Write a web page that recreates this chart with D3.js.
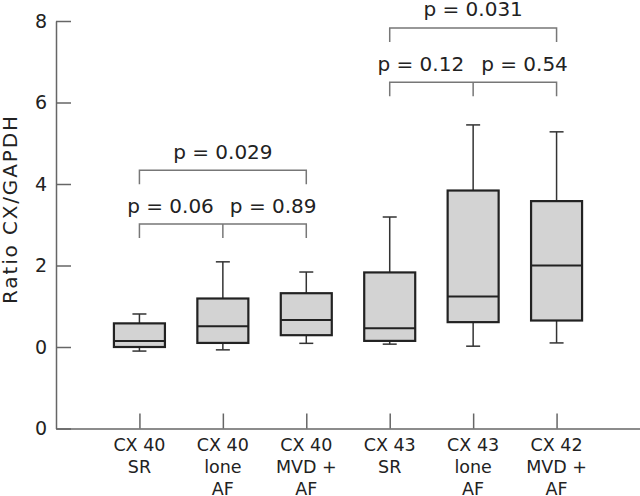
<!DOCTYPE html>
<html>
<head>
<meta charset="utf-8">
<script src="https://cdn.jsdelivr.net/npm/d3@7"></script>
<style>
  html, body { margin: 0; padding: 0; background: #fff; }
  svg { display: block; font-family: "DejaVu Sans", sans-serif; }
</style>
</head>
<body>
<svg id="chart" width="640" height="496"></svg>
<script>
// ---- data ----
const categories = ["CX 40 SR", "CX 40 lone AF", "CX 40 MVD + AF", "CX 43 SR", "CX 43 lone AF", "CX 42 MVD + AF"];
const categoryLines = [["CX 40", "SR"], ["CX 40", "lone", "AF"], ["CX 40", "MVD +", "AF"],
                       ["CX 43", "SR"], ["CX 43", "lone", "AF"], ["CX 42", "MVD +", "AF"]];
const whiskerLow  = [-0.10, -0.07, 0.09, 0.07, 0.02, 0.10];
const q1          = [0.00, 0.10, 0.29, 0.15, 0.61, 0.65];
const median      = [0.15, 0.51, 0.66, 0.46, 1.24, 2.00];
const q3          = [0.58, 1.19, 1.32, 1.83, 3.84, 3.58];
const whiskerHigh = [0.81, 2.09, 1.84, 3.19, 5.45, 5.28];
const yTickValues = [-2, 0, 2, 4, 6, 8];
const yTickLabels = ["0", "0", "2", "4", "6", "8"];
// p-value labels
const compLabels = ["p = 0.06", "p = 0.029", "p = 0.12", "p = 0.031"];
const lowerPair2 = ["p = 0.89", "p = 0.54"];

// ---- layout ----
const svg = d3.select("#chart");
const y = d3.scaleLinear().domain([-2, 8]).range([428.5, 21]);
const x = d3.scalePoint().domain(categories).range([56, 640]).padding(1);
const boxW = 51, capW = 14;

// y axis
const yAxis = svg.append("g").attr("transform", "translate(56,0)")
  .call(d3.axisLeft(y).tickValues(yTickValues).tickFormat((d, i) => yTickLabels[i])
    .tickSizeInner(-15).tickSizeOuter(0).tickPadding(9));
yAxis.select(".domain").attr("stroke", "#666").attr("stroke-width", 1.5);
yAxis.selectAll(".tick line").attr("stroke", "#666").attr("stroke-width", 1.5);
yAxis.selectAll(".tick text").attr("font-size", 19).attr("fill", "#222")
  .attr("font-family", "DejaVu Sans");

// x axis
const xAxis = svg.append("g").attr("transform", `translate(0,${y(-2)})`)
  .call(d3.axisBottom(x).tickSizeInner(-15).tickSizeOuter(0).tickFormat(""));
xAxis.select(".domain").attr("stroke", "#666").attr("stroke-width", 1.5);
xAxis.selectAll(".tick line").attr("stroke", "#666").attr("stroke-width", 1.5);
xAxis.selectAll(".tick text").remove();

// category labels
const catText = svg.append("g").selectAll("text").data(categories).join("text")
  .attr("x", d => x(d)).attr("y", 451).attr("text-anchor", "middle")
  .attr("font-size", 17.5).attr("fill", "#222");
catText.each(function(d, i) {
  d3.select(this).selectAll("tspan").data(categoryLines[i]).join("tspan")
    .attr("x", x(d)).attr("dy", (t, j) => j === 0 ? 0 : 22).text(t => t);
});

// y title
svg.append("text").attr("transform", "translate(17,210) rotate(-90)")
  .attr("text-anchor", "middle").attr("font-size", 20).attr("fill", "#222")
  .attr("textLength", 188).attr("lengthAdjust", "spacing")
  .text("Ratio CX/GAPDH");

// boxes
const g = svg.append("g");
categories.forEach((c, i) => {
  const cx = x(c);
  g.append("line").attr("x1", cx).attr("x2", cx).attr("y1", y(whiskerHigh[i])).attr("y2", y(q3[i]))
    .attr("stroke", "#333").attr("stroke-width", 1.5);
  g.append("line").attr("x1", cx).attr("x2", cx).attr("y1", y(q1[i])).attr("y2", y(whiskerLow[i]))
    .attr("stroke", "#333").attr("stroke-width", 1.5);
  g.append("line").attr("x1", cx - capW / 2).attr("x2", cx + capW / 2)
    .attr("y1", y(whiskerHigh[i])).attr("y2", y(whiskerHigh[i])).attr("stroke", "#333").attr("stroke-width", 1.5);
  g.append("line").attr("x1", cx - capW / 2).attr("x2", cx + capW / 2)
    .attr("y1", y(whiskerLow[i])).attr("y2", y(whiskerLow[i])).attr("stroke", "#333").attr("stroke-width", 1.5);
  g.append("rect").attr("x", cx - boxW / 2).attr("width", boxW)
    .attr("y", y(q3[i])).attr("height", y(q1[i]) - y(q3[i]))
    .attr("fill", "#d3d3d3").attr("stroke", "#222").attr("stroke-width", 2.2);
  g.append("line").attr("x1", cx - boxW / 2).attr("x2", cx + boxW / 2)
    .attr("y1", y(median[i])).attr("y2", y(median[i])).attr("stroke", "#222").attr("stroke-width", 2);
});

// significance brackets
const bg = svg.append("g").attr("stroke", "#777").attr("stroke-width", 1.5).attr("fill", "none");
const tg = svg.append("g").attr("font-size", 20).attr("fill", "#222");
const legH = 14;
function bracket(i0, i1, level, iMid) {
  const x0 = x(categories[i0]), x1 = x(categories[i1]), yy = y(level);
  bg.append("path").attr("d", `M${x0},${yy + legH}V${yy}H${x1}V${yy + legH}`);
  if (iMid != null) {
    const xm = x(categories[iMid]);
    bg.append("path").attr("d", `M${xm},${yy}V${yy + legH}`);
  }
  return { x0, x1, yy };
}
// left group
let b = bracket(0, 2, 3.02, 1);
tg.append("text").attr("x", x(categories[1]) - 9).attr("y", b.yy - 11).attr("text-anchor", "end").text(compLabels[0]);
tg.append("text").attr("x", x(categories[1]) + 7).attr("y", b.yy - 11).attr("text-anchor", "start").text(lowerPair2[0]);
b = bracket(0, 2, 4.34);
tg.append("text").attr("x", (b.x0 + b.x1) / 2).attr("y", b.yy - 11).attr("text-anchor", "middle").text(compLabels[1]);
// right group
b = bracket(3, 5, 6.5, 4);
tg.append("text").attr("x", x(categories[4]) - 9).attr("y", b.yy - 11).attr("text-anchor", "end").text(compLabels[2]);
tg.append("text").attr("x", x(categories[4]) + 8).attr("y", b.yy - 11).attr("text-anchor", "start").text(lowerPair2[1]);
b = bracket(3, 5, 7.83);
tg.append("text").attr("x", (b.x0 + b.x1) / 2).attr("y", b.yy - 12).attr("text-anchor", "middle").text(compLabels[3]);
</script>
</body>
</html>
